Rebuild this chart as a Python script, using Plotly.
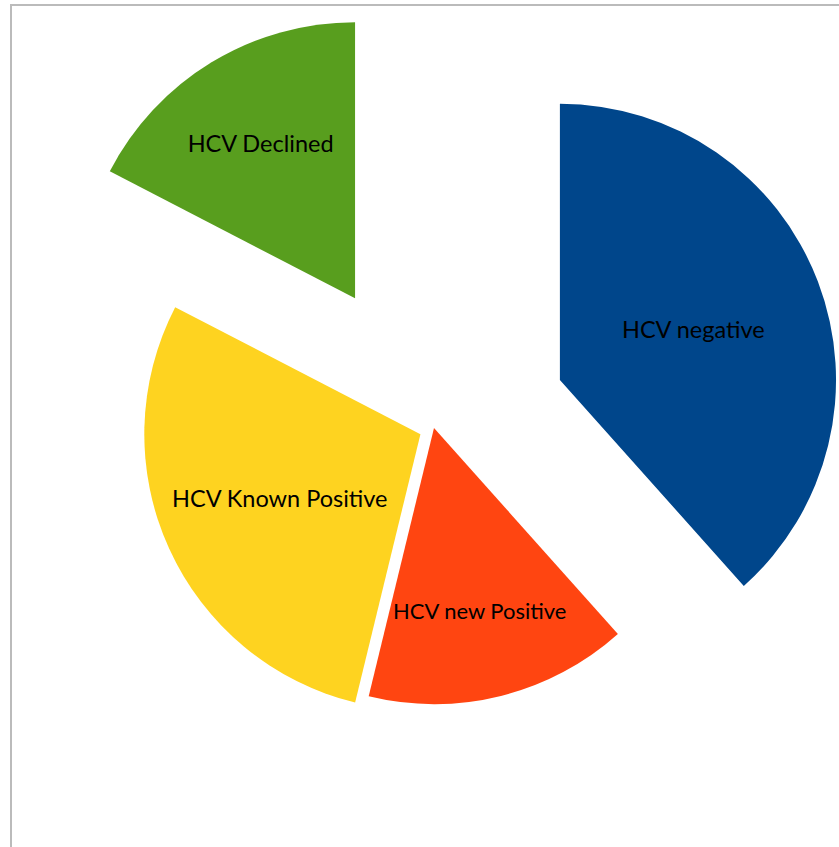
import plotly.graph_objects as go

labels = ["HCV negative", "HCV new Positive", "HCV Known Positive", "HCV Declined"]
values = [38.4, 15.4, 28.8, 17.4]
pulls = [0.488, 0.0, 0.054, 0.550]
colors = ["#00468B", "#FF4511", "#FED320", "#589E1E"]

W, H = 862, 856
L, T = 6, 0

fig = go.Figure(go.Pie(
    labels=labels,
    values=values,
    pull=pulls,
    sort=False,
    direction="clockwise",
    rotation=0,
    marker=dict(colors=colors, line=dict(width=0)),
    textinfo="label",
    textposition="inside",
    insidetextorientation="horizontal",
    textfont=dict(family="Lato, Carlito, Calibri, sans-serif", size=23.5, color="black"),
    hoverinfo="label+percent",
    showlegend=False,
    domain=dict(x=[0, 1], y=[0, 1]),
))

fig.update_layout(
    width=W, height=H,
    margin=dict(l=L, r=0, t=T, b=0, pad=0),
    paper_bgcolor="white",
    plot_bgcolor="white",
    shapes=[dict(
        type="rect", xref="paper", yref="paper",
        x0=(11 - L) / (W - L), x1=1.2,
        y0=-0.2, y1=1 - (5 - T) / (H - T),
        line=dict(color="#BBBBBB", width=2),
        fillcolor="rgba(0,0,0,0)",
        layer="below",
    )],
)

post = ("document.body.style.margin='0';"
        "document.body.style.overflow='hidden';"
        "document.documentElement.style.overflow='hidden';")

fig.write_html("out.html", config={"displayModeBar": False}, post_script=post)
